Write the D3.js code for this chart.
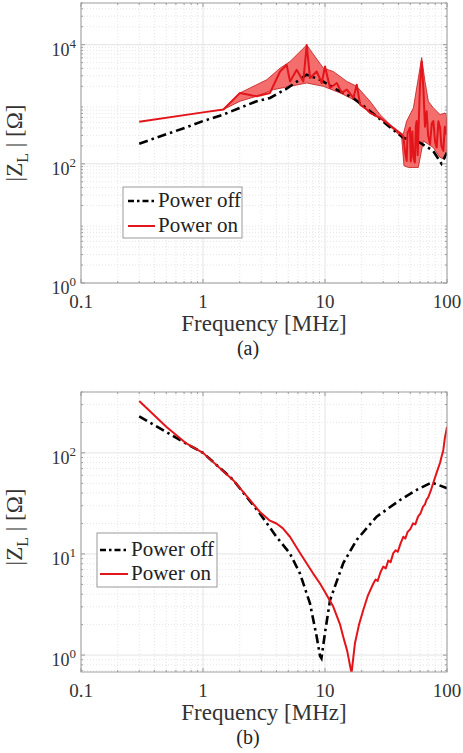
<!DOCTYPE html>
<html>
<head>
<meta charset="utf-8">
<script src="https://cdn.jsdelivr.net/npm/d3@7"></script>
<style>
  body { margin: 0; background: #fff; }
</style>
</head>
<body>
<div id="chart"></div>
<script>
// ---- data ----
var seriesNames = ["Power off", "Power on"];
var xTicks = [0.1, 1, 10, 100];
var xTickLabels = ["0.1", "1", "10", "100"];
var yTicksA = [1, 100, 10000], yExpA = ["0", "2", "4"];
var yTicksB = [1, 10, 100], yExpB = ["0", "1", "2"];

// (a) power off
var freqOffA = [0.3, 0.78, 1.0, 1.47, 2.75, 3.54, 4.85, 7.08, 9.1, 12.5, 17, 23.4, 32, 43.6, 60, 77, 90, 100];
var zOffA = [218, 430, 522, 673, 1122, 1276, 1824, 3120, 2578, 1755, 1276, 764, 458, 275, 227, 165, 101, 155];

// (a) power on (line)
var freqOnA = [0.3, 1.0, 1.47, 2.01, 2.75, 3.54, 4.28, 4.85, 5.17, 5.86, 6.64, 7.08, 7.54, 8.55, 9.4,
  10, 11, 12.5, 13.7, 15.1, 17.1, 18.2, 19.4, 22, 23.4, 28.2, 36.3, 43.8,
  45.5, 46.7, 47.5, 49.7, 50.5, 52, 53, 54.5, 55.5, 56.4, 57.5, 59, 60.1, 62, 64, 66, 68.1, 70,
  72.6, 75, 77.3, 80, 82.3, 85, 87.7, 90, 93.3, 96, 99.3, 100];
var zOnA = [508, 730, 815, 1549, 1360, 1549, 3548, 4580, 2417, 3785, 2417, 9870, 2748, 3548, 2270,
  4300, 1871, 2270, 1549, 1755, 1276, 2128, 987, 815, 717, 592, 403, 293,
  150, 112, 330, 403, 110, 350, 128, 105, 420, 521, 140, 700, 2128, 5210, 1871, 420, 764, 300,
  213, 480, 521, 230, 187, 520, 403, 200, 165, 420, 312, 592];

// (a) power on spread (upper / lower envelope)
var bandFreqHi = [1.47, 2.01, 3.33, 4.28, 5.17, 7.08, 9.7, 11.7, 15.1, 18.2, 23.4, 28.2,
  36.3, 43.8, 46.7, 53, 58.2, 62, 66, 70.3, 77.3, 87.7, 96.3, 100];
var bandHi = [815, 1549, 2578, 4030, 5210, 9870, 4030, 3548, 2417, 1995, 1122, 673,
  403, 312, 521, 868, 2748, 6070, 2417, 1122, 868, 673, 713, 631];
var bandFreqLo = [1.47, 2.01, 2.75, 3.77, 5.17, 7.08, 9.7, 13.3, 18.2, 23.4, 28.2, 36.3, 42.5,
  44.4, 48.2, 58.2, 64, 70.3, 77.3, 87.7, 96.3, 100];
var bandLo = [815, 1122, 1360, 1755, 1995, 2270, 1995, 1549, 1122, 717, 577, 378, 275,
  92.6, 86.9, 86.9, 242, 213, 187, 128, 120, 187];

// (b) power off
var freqOffB = [0.3, 0.5, 0.69, 1.0, 1.77, 2.93, 4.0, 5.16, 6.24, 7.53, 8.55, 9.1, 9.35, 10, 11, 14.1,
  18.2, 26.5, 41, 56.4, 74.8, 100];
var zOffB = [230, 161, 128, 100, 54, 25, 14.8, 10.1, 6.4, 3.24, 1.52, 0.98, 0.93, 1.66, 3.5, 8.1,
  13.8, 23.4, 34, 43, 51, 44.7];

// (b) power on
var freqOnB = [0.3, 0.5, 0.73, 1.0, 1.77, 2.93, 3.5, 4.0, 4.5, 5.16, 6.24, 8.0, 9.1, 10, 11.7, 13.3,
  14.1, 15.2, 16.5, 17.6, 19, 20.6, 22.5, 24.9, 26, 27, 28.5, 30, 31.5, 33, 34.5, 36.3, 38, 39.5,
  41.5, 43.8, 45.5, 47.5, 50, 52.7, 55, 58, 60.5, 63.6, 66, 68, 70, 73.5, 77, 82, 87.7, 91, 93.3, 96, 100];
var zOnB = [326, 181, 124, 100, 53.7, 26, 21.5, 20, 18, 14.8, 10.2, 6.4, 5.1, 4.2, 3.0, 2.0,
  1.52, 1.1, 0.66, 1.31, 2.0, 2.79, 3.9, 5.1, 5.6, 5.4, 6.6, 7.5, 7.2, 8.6, 8.3, 10.2, 10.9, 10.5,
  12.6, 14.8, 14.2, 16.5, 17.6, 20.1, 19.6, 23.5, 25, 29.4, 31, 34.5, 36, 42, 50, 63, 79.8, 95, 107, 140, 181];

// ---- drawing ----
var FONT = "'Liberation Serif', 'Times New Roman', Times, serif";

var svg = d3.select("#chart").append("svg")
  .attr("width", 463)
  .attr("height", 753)
  .attr("font-family", FONT);

function minorTicks(domain) {
  var out = [];
  var lo = Math.floor(Math.log10(domain[0])), hi = Math.ceil(Math.log10(domain[1]));
  for (var d = lo; d < hi; d++) {
    for (var k = 2; k <= 9; k++) {
      var v = k * Math.pow(10, d);
      if (v >= domain[0] && v <= domain[1]) out.push(v);
    }
  }
  return out;
}

function drawPanel(opt) {
  var left = 81, right = 447;
  var top = opt.top, bottom = opt.bottom;
  var width = right - left, height = bottom - top;

  var g = svg.append("g")
    .attr("transform", "translate(" + left + "," + top + ")");

  var x = d3.scaleLog().domain([0.1, 100]).range([0, width]);
  var y = d3.scaleLog().domain(opt.yDomain).range([height, 0]);

  // grid
  g.selectAll(".xminor").data(minorTicks(x.domain())).enter().append("line")
    .attr("x1", d => x(d)).attr("x2", d => x(d)).attr("y1", 0).attr("y2", height)
    .attr("stroke", "#e6e6e6").attr("stroke-dasharray", "1,2");
  g.selectAll(".yminor").data(minorTicks(y.domain())).enter().append("line")
    .attr("y1", d => y(d)).attr("y2", d => y(d)).attr("x1", 0).attr("x2", width)
    .attr("stroke", "#e6e6e6").attr("stroke-dasharray", "1,2");
  g.selectAll(".xmajor").data(xTicks).enter().append("line")
    .attr("x1", d => x(d)).attr("x2", d => x(d)).attr("y1", 0).attr("y2", height)
    .attr("stroke", "#e4e4e4");
  g.selectAll(".ymajor").data(opt.yTicks).enter().append("line")
    .attr("y1", d => y(d)).attr("y2", d => y(d)).attr("x1", 0).attr("x2", width)
    .attr("stroke", "#e4e4e4");

  // small inward ticks on the box
  var xm = minorTicks(x.domain()), ym = minorTicks(y.domain());
  [0, height].forEach(function (yy) {
    g.selectAll(null).data(xm).enter().append("line")
      .attr("x1", d => x(d)).attr("x2", d => x(d))
      .attr("y1", yy).attr("y2", yy === 0 ? 2 : height - 2)
      .attr("stroke", "#999");
    g.selectAll(null).data(xTicks).enter().append("line")
      .attr("x1", d => x(d)).attr("x2", d => x(d))
      .attr("y1", yy).attr("y2", yy === 0 ? 4 : height - 4)
      .attr("stroke", "#999");
  });
  [0, width].forEach(function (xx) {
    g.selectAll(null).data(ym).enter().append("line")
      .attr("y1", d => y(d)).attr("y2", d => y(d))
      .attr("x1", xx).attr("x2", xx === 0 ? 2 : width - 2)
      .attr("stroke", "#999");
    g.selectAll(null).data(opt.yTicks).enter().append("line")
      .attr("y1", d => y(d)).attr("y2", d => y(d))
      .attr("x1", xx).attr("x2", xx === 0 ? 4 : width - 4)
      .attr("stroke", "#999");
  });

  // clip
  var clipId = "clip-" + opt.name;
  g.append("clipPath").attr("id", clipId)
    .append("rect").attr("width", width).attr("height", height);
  var plot = g.append("g").attr("clip-path", "url(#" + clipId + ")");

  var line = d3.line()
    .x(d => x(d[0]))
    .y(d => y(d[1]));

  if (opt.bandHi) {
    var hi = d3.zip(opt.bandFreqHi, opt.bandHi);
    var lo = d3.zip(opt.bandFreqLo, opt.bandLo).reverse();
    plot.append("path")
      .attr("d", line(hi.concat(lo)) + "Z")
      .attr("fill", "#f25555")
      .attr("fill-opacity", 0.85)
      .attr("stroke", "#c21a1a")
      .attr("stroke-width", 0.8);
  }

  plot.append("path")
    .attr("d", line(d3.zip(opt.freqOff, opt.zOff)))
    .attr("fill", "none")
    .attr("stroke", "#000")
    .attr("stroke-width", 2.6)
    .attr("stroke-dasharray", "9,4,2.5,4");

  plot.append("path")
    .attr("d", line(d3.zip(opt.freqOn, opt.zOn)))
    .attr("fill", "none")
    .attr("stroke", "#e3141a")
    .attr("stroke-width", 2)
    .attr("stroke-linejoin", "round");

  // box
  g.append("rect")
    .attr("width", width).attr("height", height)
    .attr("fill", "none").attr("stroke", "#a0a0a0").attr("stroke-width", 1);

  // x tick labels
  g.selectAll(".xlab").data(xTicks).enter().append("text")
    .attr("x", d => x(d))
    .attr("y", height + 25)
    .attr("text-anchor", "middle")
    .attr("fill", "#333")
    .style("font-size", "19px")
    .text((d, i) => xTickLabels[i]);

  // y tick labels 10^n
  opt.yTicks.forEach(function (t, i) {
    var txt = g.append("text")
      .attr("x", -5)
      .attr("y", y(t) + 11)
      .attr("text-anchor", "end")
      .attr("fill", "#333")
      .style("font-size", "18px");
    txt.append("tspan").text("10");
    txt.append("tspan").attr("dy", -8).style("font-size", "13px").text(opt.yExp[i]);
  });

  // axis titles
  g.append("text")
    .attr("x", width / 2)
    .attr("y", height + 48)
    .attr("text-anchor", "middle")
    .attr("fill", "#333")
    .style("font-size", "23px")
    .text("Frequency [MHz]");

  var yl = g.append("text")
    .attr("transform", "translate(-59," + opt.yLabelY + ") rotate(-90)")
    .attr("text-anchor", "middle")
    .attr("fill", "#333")
    .style("font-size", "23px");
  yl.append("tspan").text("|Z");
  yl.append("tspan").attr("dy", 6).style("font-size", "16px").text("L");
  yl.append("tspan").attr("dy", -6).text(" | [Ω]");

  g.append("text")
    .attr("x", 248 - left)
    .attr("y", height + opt.capOffset)
    .attr("text-anchor", "middle")
    .attr("fill", "#222")
    .style("font-size", "20px")
    .text(opt.caption);

  // legend
  var lg = svg.append("g").attr("transform", "translate(" + opt.legend[0] + "," + opt.legend[1] + ")");
  lg.append("rect")
    .attr("width", opt.legend[2]).attr("height", opt.legend[3])
    .attr("fill", "#fff").attr("stroke", "#999");
  seriesNames.forEach(function (name, i) {
    var cy = opt.legendRows[i];
    lg.append("line")
      .attr("x1", opt.legendLine[0]).attr("x2", opt.legendLine[1])
      .attr("y1", cy).attr("y2", cy)
      .attr("stroke", i === 0 ? "#000" : "#e3141a")
      .attr("stroke-width", i === 0 ? 2.6 : 2)
      .attr("stroke-dasharray", i === 0 ? "6,3,2.5,3" : null);
    lg.append("text")
      .attr("x", opt.legendLine[1] + 3)
      .attr("y", cy + 6)
      .attr("fill", "#222")
      .style("font-size", "21px")
      .text(name);
  });
}

drawPanel({
  name: "a", top: 3, bottom: 283, yDomain: [1, 50000],
  yTicks: yTicksA, yExp: yExpA, yLabelY: 140,
  freqOff: freqOffA, zOff: zOffA, freqOn: freqOnA, zOn: zOnA,
  bandFreqHi: bandFreqHi, bandHi: bandHi, bandFreqLo: bandFreqLo, bandLo: bandLo,
  caption: "(a)", capOffset: 72,
  legend: [123, 187, 119, 51], legendRows: [14, 39], legendLine: [5, 32]
});

drawPanel({
  name: "b", top: 392, bottom: 672, yDomain: [0.68, 400],
  yTicks: yTicksB, yExp: yExpB, yLabelY: 135,
  freqOff: freqOffB, zOff: zOffB, freqOn: freqOnB, zOn: zOnB,
  caption: "(b)", capOffset: 72,
  legend: [97, 533, 120, 54], legendRows: [17, 41], legendLine: [3, 31]
});
</script>
</body>
</html>
